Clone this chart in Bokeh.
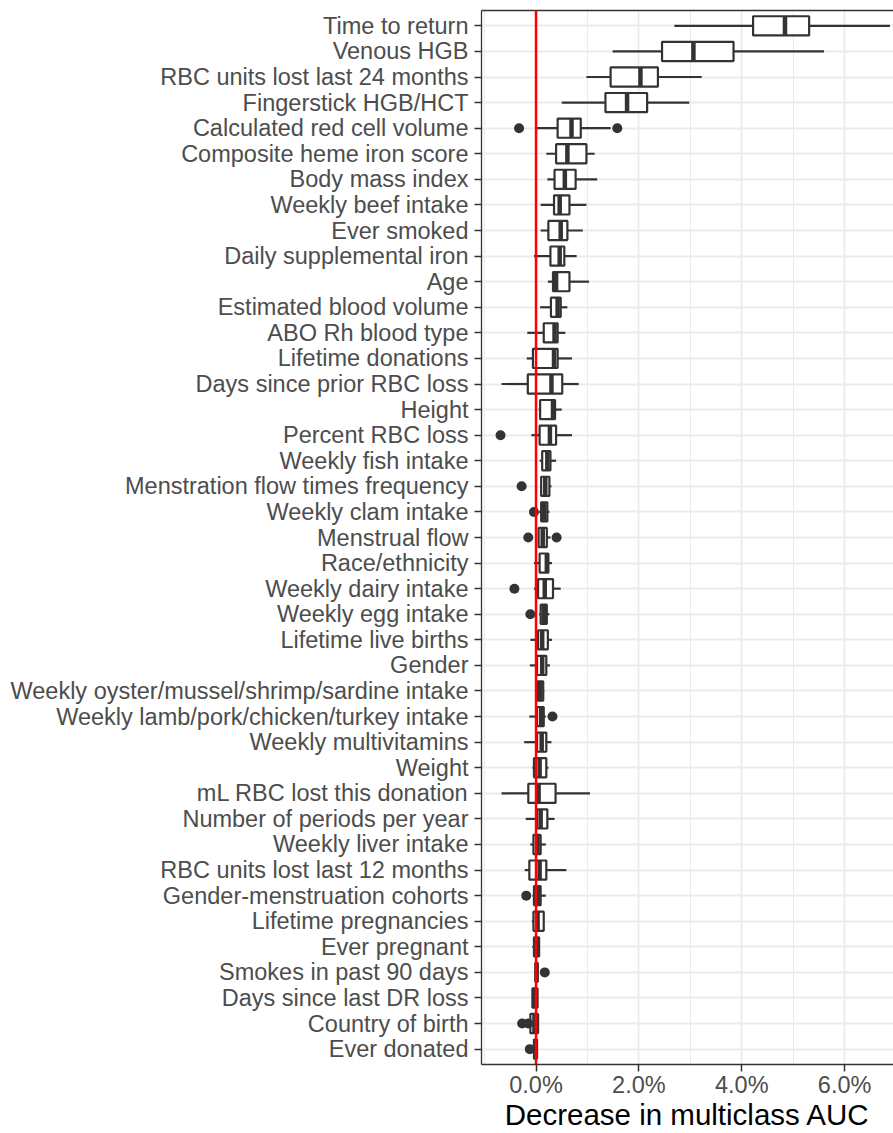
import pandas as pd
from bokeh.plotting import figure, ColumnDataSource
from bokeh.models import (Range1d, FixedTicker, PrintfTickFormatter, Span,
                          LinearAxis)
from bokeh.embed import file_html
from bokeh.resources import INLINE

# features, top to bottom
features = [
    "Time to return", "Venous HGB", "RBC units lost last 24 months",
    "Fingerstick HGB/HCT", "Calculated red cell volume",
    "Composite heme iron score", "Body mass index", "Weekly beef intake",
    "Ever smoked", "Daily supplemental iron", "Age", "Estimated blood volume",
    "ABO Rh blood type", "Lifetime donations", "Days since prior RBC loss",
    "Height", "Percent RBC loss", "Weekly fish intake",
    "Menstration flow times frequency", "Weekly clam intake",
    "Menstrual flow", "Race/ethnicity", "Weekly dairy intake",
    "Weekly egg intake", "Lifetime live births", "Gender",
    "Weekly oyster/mussel/shrimp/sardine intake",
    "Weekly lamb/pork/chicken/turkey intake", "Weekly multivitamins",
    "Weight", "mL RBC lost this donation", "Number of periods per year",
    "Weekly liver intake", "RBC units lost last 12 months",
    "Gender-menstruation cohorts", "Lifetime pregnancies", "Ever pregnant",
    "Smokes in past 90 days", "Days since last DR loss", "Country of birth",
    "Ever donated",
]

# decrease in multiclass AUC, in percent
whisker_low = [2.69, 1.49, 0.98, 0.50, 0.02, 0.20, 0.22, 0.09, 0.09, -0.04,
               0.23, 0.08, -0.17, -0.18, -0.67, 0.05, -0.09, 0.07, 0.08, 0.06,
               0.04, -0.04, -0.04, 0.06, -0.11, -0.12, -0.02, -0.13, -0.23,
               -0.07, -0.67, -0.20, -0.11, -0.22, -0.07, -0.08, -0.07, -0.02,
               -0.08, -0.11, -0.04]
q1 = [4.22, 2.45, 1.45, 1.35, 0.42, 0.39, 0.36, 0.35, 0.24, 0.28,
      0.33, 0.29, 0.15, -0.06, -0.16, 0.08, 0.07, 0.12, 0.10, 0.10,
      0.05, 0.07, 0.04, 0.09, 0.04, 0.02, 0.02, 0.02, 0.02,
      -0.04, -0.15, 0.02, -0.05, -0.13, -0.04, -0.05, -0.04, -0.01,
      -0.07, -0.11, -0.04]
median = [4.84, 3.06, 2.03, 1.77, 0.69, 0.61, 0.56, 0.46, 0.48, 0.46,
          0.39, 0.42, 0.36, 0.35, 0.30, 0.33, 0.27, 0.22, 0.18, 0.16,
          0.13, 0.21, 0.17, 0.15, 0.12, 0.12, 0.08, 0.10, 0.11,
          0.07, 0.05, 0.09, 0.03, 0.07, 0.04, 0.03, 0.01, 0.01,
          -0.02, -0.03, -0.01]
q3 = [5.31, 3.84, 2.37, 2.16, 0.87, 0.98, 0.77, 0.65, 0.61, 0.55,
      0.65, 0.48, 0.42, 0.42, 0.51, 0.37, 0.39, 0.28, 0.26, 0.22,
      0.21, 0.24, 0.33, 0.21, 0.23, 0.20, 0.14, 0.15, 0.20,
      0.20, 0.38, 0.22, 0.09, 0.20, 0.09, 0.15, 0.06, 0.03,
      0.03, 0.04, 0.02]
whisker_high = [6.88, 5.60, 3.22, 2.98, 1.45, 1.14, 1.19, 0.98, 0.91, 0.79,
                1.03, 0.61, 0.57, 0.70, 0.83, 0.50, 0.70, 0.39, 0.30, 0.26,
                0.28, 0.31, 0.48, 0.26, 0.31, 0.27, 0.16, 0.19, 0.30,
                0.24, 1.05, 0.36, 0.19, 0.59, 0.19, 0.15, 0.06, 0.04,
                0.04, 0.05, 0.03]

outlier_feature = ["Calculated red cell volume", "Calculated red cell volume",
                   "Percent RBC loss", "Menstration flow times frequency",
                   "Weekly clam intake", "Menstrual flow", "Menstrual flow",
                   "Weekly dairy intake", "Weekly egg intake",
                   "Weekly lamb/pork/chicken/turkey intake",
                   "Gender-menstruation cohorts", "Smokes in past 90 days",
                   "Country of birth", "Country of birth", "Ever donated"]
outlier_value = [-0.33, 1.58, -0.69, -0.28, -0.04, -0.15, 0.40, -0.42, -0.11,
                 0.32, -0.19, 0.17, -0.27, -0.15, -0.12]

x_ticks = [0, 2, 4, 6]
x_minor = [-1, 1, 3, 5]

FONT = "Liberation Sans"
DARK = "#333333"

n = len(features)
pos = {f: n - i for i, f in enumerate(features)}

df = pd.DataFrame({'feature': features, 'lo': whisker_low, 'q1': q1,
                   'med': median, 'q3': q3, 'hi': whisker_high})
df['y'] = df['feature'].map(pos)
df['y0'] = df['y'] - 0.375
df['y1'] = df['y'] + 0.375
source = ColumnDataSource(df)

out = pd.DataFrame({'feature': outlier_feature, 'value': outlier_value})
out['y'] = out['feature'].map(pos)
out_source = ColumnDataSource(out)

p = figure(width=893, height=1133, output_backend="svg", toolbar_location=None,
           x_range=Range1d(-1.06, 6.95), y_range=Range1d(0.4, n + 0.6),
           min_border_left=481, min_border_right=0, min_border_top=10,
           min_border_bottom=0, x_axis_label='Decrease in multiclass AUC')
p.outline_line_color = None
p.background_fill_color = "white"

# whiskers, boxes, medians, outliers
p.segment(x0='lo', y0='y', x1='q1', y1='y', source=source,
          line_color=DARK, line_width=2.2)
p.segment(x0='q3', y0='y', x1='hi', y1='y', source=source,
          line_color=DARK, line_width=2.2)
p.hbar(y='y', left='q1', right='q3', height=0.75, source=source,
       fill_color="white", line_color=DARK, line_width=2.2)
p.segment(x0='med', y0='y0', x1='med', y1='y1', source=source,
          line_color=DARK, line_width=4.5)
p.scatter(x='value', y='y', source=out_source, size=10,
          fill_color=DARK, line_color=None)

p.add_layout(Span(location=0, dimension='height', line_color="#FF0000",
                  line_width=2.5))

# axes
xax = p.xaxis[0]
xax.ticker = FixedTicker(ticks=x_ticks, minor_ticks=x_minor)
xax.formatter = PrintfTickFormatter(format="%.1f%%")
yax = p.yaxis[0]
yax.ticker = FixedTicker(ticks=list(range(1, n + 1)))
yax.major_label_overrides = {v: k for k, v in pos.items()}

for ax in (xax, yax):
    ax.axis_line_color = DARK
    ax.axis_line_width = 1.3
    ax.major_tick_line_color = DARK
    ax.major_tick_line_width = 1.5
    ax.major_tick_out = 7
    ax.major_tick_in = 0
    ax.minor_tick_line_color = None
    ax.major_label_text_font = FONT
    ax.major_label_text_font_size = "23.5px"
    ax.major_label_text_color = "#4D4D4D"
yax.major_label_standoff = 6
xax.major_label_standoff = 0
xax.axis_label_text_font = FONT
xax.axis_label_text_font_size = "29.5px"
xax.axis_label_text_font_style = "normal"
xax.axis_label_text_color = "black"
xax.axis_label_standoff = -3

# top border of the panel
top = LinearAxis(ticker=FixedTicker(ticks=[]), major_tick_out=0,
                 major_tick_in=0, minor_tick_out=0, minor_tick_in=0,
                 major_label_standoff=0, axis_line_color=DARK,
                 axis_line_width=1.3)
p.add_layout(top, 'above')

p.xgrid.ticker = FixedTicker(ticks=x_ticks, minor_ticks=x_minor)
p.xgrid.grid_line_color = "#EBEBEB"
p.xgrid.grid_line_width = 1.8
p.xgrid.minor_grid_line_color = "#EBEBEB"
p.xgrid.minor_grid_line_width = 1.0
p.ygrid.ticker = FixedTicker(ticks=list(range(1, n + 1)))
p.ygrid.grid_line_color = "#EBEBEB"
p.ygrid.grid_line_width = 1.8

open("out.html", "w").write(file_html(p, INLINE))
